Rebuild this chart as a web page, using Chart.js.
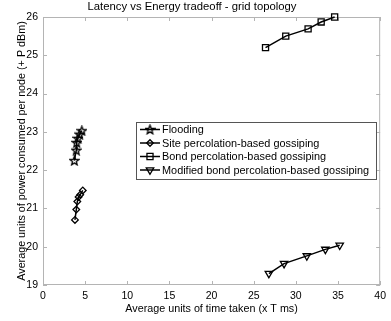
<!DOCTYPE html>
<html>
<head>
<meta charset="utf-8">
<script src="https://cdn.jsdelivr.net/npm/chart.js@4.4.1/dist/chart.umd.min.js"></script>
<style>
  html, body { margin: 0; padding: 0; background: #fff; }
  #wrap { width: 391px; height: 321px; }
</style>
</head>
<body>
<div id="wrap"><canvas id="tradeoff" width="391" height="321"></canvas></div>
<script>
// values
var floodX = [3.72, 3.95, 4.0, 4.14, 4.34, 4.61];
var floodY = [22.25, 22.52, 22.72, 22.83, 22.94, 23.03];
var siteX = [3.79, 3.95, 4.07, 4.22, 4.42, 4.72];
var siteY = [20.70, 20.97, 21.18, 21.30, 21.36, 21.47];
var bondX = [26.4, 28.8, 31.45, 33.0, 34.6];
var bondY = [25.2, 25.5, 25.69, 25.87, 26.0];
var modX = [26.8, 28.6, 31.3, 33.5, 35.2];
var modY = [19.3, 19.56, 19.76, 19.93, 20.04];

var seriesNames = ['Flooding', 'Site percolation-based gossiping', 'Bond percolation-based gossiping', 'Modified bond percolation-based gossiping'];
var xTicks = [0, 5, 10, 15, 20, 25, 30, 35, 40];
var yTicks = [19, 20, 21, 22, 23, 24, 25, 26];

var FONT = '"Liberation Sans", Arial, Helvetica, sans-serif';

// pentagram marker (matlab 'p')
function makeStar() {
  var c = document.createElement('canvas');
  c.width = 11; c.height = 11;
  var g = c.getContext('2d');
  g.strokeStyle = '#000';
  g.lineWidth = 1.3;
  g.beginPath();
  for (var i = 0; i < 10; i++) {
    var r = (i % 2 === 0) ? 4.7 : 2.0;
    var a = -Math.PI / 2 + i * Math.PI / 5;
    var px = 5.5 + r * Math.cos(a), py = 5.9 + r * Math.sin(a);
    if (i === 0) g.moveTo(px, py); else g.lineTo(px, py);
  }
  g.closePath();
  g.stroke();
  return c;
}
var starImg = makeStar();

function pts(xs, ys) {
  return xs.map(function (x, i) { return { x: x, y: ys[i] }; });
}

function serie(label, xs, ys, style, radius, rot) {
  return {
    label: label,
    data: pts(xs, ys),
    showLine: true,
    borderColor: '#000',
    borderWidth: 1.5,
    pointStyle: style,
    pointRadius: radius,
    pointRotation: rot || 0,
    pointBorderColor: '#000',
    pointBackgroundColor: 'rgba(0,0,0,0)',
    pointBorderWidth: 1.3,
    clip: false
  };
}

var datasets = [
  serie(seriesNames[0], floodX, floodY, starImg, 4),
  serie(seriesNames[1], siteX, siteY, 'rectRot', 3.3),
  serie(seriesNames[2], bondX, bondY, 'rect', 4.3),
  serie(seriesNames[3], modX, modY, 'triangle', 4.3, 180)
];

// matlab style box with inward ticks
var framePlugin = {
  id: 'frame',
  beforeDatasetsDraw: function (chart) {
    var ctx = chart.ctx, a = chart.chartArea;
    var sx = chart.scales.x, sy = chart.scales.y;
    ctx.save();
    ctx.strokeStyle = '#b4b4b4';
    ctx.lineWidth = 1;
    ctx.strokeRect(a.left + 0.5, a.top + 0.5, a.right - a.left - 1, a.bottom - a.top - 1);
    ctx.beginPath();
    xTicks.forEach(function (v) {
      var px = Math.round(sx.getPixelForValue(v)) + 0.5;
      ctx.moveTo(px, a.bottom); ctx.lineTo(px, a.bottom - 4);
      ctx.moveTo(px, a.top); ctx.lineTo(px, a.top + 4);
    });
    yTicks.forEach(function (v) {
      var py = Math.round(sy.getPixelForValue(v)) + 0.5;
      ctx.moveTo(a.left, py); ctx.lineTo(a.left + 4, py);
      ctx.moveTo(a.right, py); ctx.lineTo(a.right - 4, py);
    });
    ctx.stroke();
    ctx.restore();
  }
};

// legend box drawn inside the axes
var boxLegend = {
  id: 'boxLegend',
  afterDraw: function (chart) {
    var ctx = chart.ctx;
    var left = 136, top = 122, right = 377, bottom = 180;
    var rowY = [129.5, 143, 156.5, 170];
    ctx.save();
    ctx.fillStyle = '#fff';
    ctx.fillRect(left, top, right - left, bottom - top);
    ctx.strokeStyle = '#555';
    ctx.lineWidth = 1;
    ctx.strokeRect(left + 0.5, top + 0.5, right - left - 1, bottom - top - 1);
    ctx.font = '10.9px ' + FONT;
    ctx.textBaseline = 'middle';
    chart.data.datasets.forEach(function (ds, i) {
      var y = rowY[i];
      ctx.strokeStyle = '#000';
      ctx.lineWidth = 1.5;
      ctx.beginPath();
      ctx.moveTo(140, y); ctx.lineTo(160, y);
      ctx.stroke();
      ctx.lineWidth = ds.pointBorderWidth;
      ctx.fillStyle = ds.pointBackgroundColor;
      Chart.helpers.drawPoint(ctx, {
        pointStyle: ds.pointStyle,
        radius: ds.pointRadius,
        rotation: ds.pointRotation,
        borderWidth: ds.pointBorderWidth
      }, 150, y);
      ctx.fillStyle = '#000';
      ctx.fillText(ds.label, 162, y + 0.5);
    });
    ctx.restore();
  }
};

new Chart(document.getElementById('tradeoff'), {
  type: 'scatter',
  data: { datasets: datasets },
  options: {
    responsive: false,
    animation: false,
    layout: { padding: { left: 0, right: 7, top: 0, bottom: 0 } },
    plugins: {
      legend: { display: false },
      tooltip: { enabled: false },
      title: {
        display: true,
        text: 'Latency vs Energy tradeoff - grid topology',
        color: '#000',
        font: { family: FONT, size: 11.3, weight: 'normal', lineHeight: 1.15 },
        padding: { top: 0, bottom: 4 }
      }
    },
    scales: {
      x: {
        type: 'linear',
        min: 0, max: 40,
        afterBuildTicks: function (s) { s.ticks = xTicks.map(function (v) { return { value: v }; }); },
        afterFit: function (s) { s.height = 36; },
        grid: { display: false, drawTicks: false },
        border: { display: false },
        ticks: { color: '#000', padding: 5, maxRotation: 0, font: { family: FONT, size: 10.5 } },
        title: {
          display: true,
          text: 'Average units of time taken (x T ms)',
          color: '#000',
          font: { family: FONT, size: 10.75, lineHeight: 1.2 },
          padding: { top: 0, bottom: 6 }
        }
      },
      y: {
        type: 'linear',
        min: 19, max: 26,
        afterBuildTicks: function (s) { s.ticks = yTicks.map(function (v) { return { value: v }; }); },
        afterFit: function (s) { s.width = 43; },
        grid: { display: false, drawTicks: false },
        border: { display: false },
        ticks: { color: '#000', padding: 5, font: { family: FONT, size: 10.5 } },
        title: {
          display: true,
          text: 'Average units of power consumed per node (+ P dBm)',
          color: '#000',
          font: { family: FONT, size: 10.75, lineHeight: 1.2 },
          padding: { top: 15.5, bottom: 0 }
        }
      }
    }
  },
  plugins: [framePlugin, boxLegend]
});
</script>
</body>
</html>
